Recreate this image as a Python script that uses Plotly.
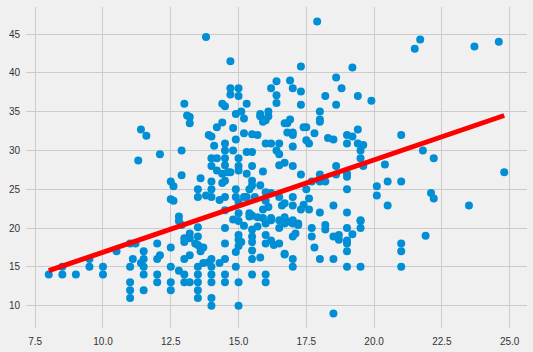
import plotly.graph_objects as go

# acceleration (x) vs mpg (y)
acceleration = [
    13.8, 14.7, 14.7, 14.7, 15.0, 15.0, 13.0, 14.4, 14.5, 15.3, 16.4, 16.2, 16.4, 16.4, 16.1, 15.8, 14.9, 15.1, 13.1,
    17.9, 17.3, 19.2, 16.9, 17.0, 17.3, 18.6, 18.8, 18.2, 19.4, 19.9, 17.3, 18.6, 18.0,
    21.7, 21.5, 23.7, 24.6,
    11.4, 11.6, 11.3, 12.1,
    13.2, 13.2, 15.2, 15.8, 16.0, 16.1, 15.9, 14.2, 14.4, 14.8, 15.2, 13.9, 14.0, 14.5, 14.1, 14.9,
    15.5, 15.7, 16.7, 16.0, 16.2, 16.5, 12.9, 14.5, 14.8, 15.3, 15.5, 16.4, 16.5,
    14.0, 14.2, 14.5, 15.0, 14.0, 14.5, 15.0, 15.5, 14.2, 14.4, 14.6, 14.7, 15.0, 15.3, 15.9, 16.5, 16.7,
    12.9, 13.6, 12.5, 12.6, 14.0, 14.5, 14.4, 15.5, 15.5, 15.8, 15.4, 16.0, 16.2, 13.5, 14.0, 14.9,
    12.5, 12.6, 13.5, 13.8, 14.0, 14.3, 14.5, 14.9, 15.0, 15.2, 15.3, 15.6, 16.0, 16.1, 16.5, 16.6,
    12.8, 14.5, 14.8, 15.0, 15.4, 15.5, 15.4, 15.7, 15.9, 16.2, 16.7, 15.9,
    18.0, 18.0, 16.9, 16.8, 17.4, 17.5, 16.8, 17.0, 17.0, 17.8, 17.5, 17.6, 17.0, 18.3, 18.5,
    19.0, 19.2, 19.4, 19.0, 19.4, 19.6, 19.5, 21.0, 19.5, 19.6, 18.6, 19.0, 19.0, 20.4, 17.0,
    17.3, 18.0, 18.2, 18.0, 18.6, 17.7, 20.5, 21.0, 17.5, 19.0, 20.1, 20.1, 17.0, 16.7, 17.0,
    17.6, 17.4, 17.3, 17.6, 18.5, 19.0, 18.0, 20.5, 19.5, 16.5, 16.8, 17.0, 17.2,
    21.8, 22.2, 24.8, 22.1, 22.2, 23.5,
    8.0, 8.5, 8.5, 9.0, 9.5, 9.5, 10.0, 10.0, 10.5, 11.0, 11.2, 11.0, 11.0, 11.0, 11.0, 11.1,
    11.5, 11.4, 11.5, 11.5, 11.5, 11.5, 12.0, 12.0, 12.0, 12.0, 12.1,
    12.5, 12.8, 12.9, 13.0, 13.0, 13.2, 13.2, 13.5, 13.5, 13.5, 13.4, 13.6, 13.6, 13.7, 13.2, 13.0,
    12.5, 12.5, 12.5, 12.8, 13.0, 13.0, 13.2, 13.5, 13.5, 13.5, 13.5, 13.5,
    13.7, 13.9, 14.0, 14.0, 14.0, 14.0, 14.0, 14.0, 14.3, 14.5, 14.5, 14.5, 14.5,
    14.9, 14.9, 15.0, 15.0, 15.1, 15.0, 15.0, 15.0, 15.5, 15.5, 15.5, 15.5, 15.5, 15.8, 15.5,
    16.0, 16.0, 16.0, 16.0, 16.2, 16.3, 16.7,
    16.5, 16.7, 17.0, 17.2, 17.1, 17.0, 16.5, 16.7, 17.0, 17.0, 17.7, 17.7, 17.8, 18.2, 18.2,
    18.0, 18.5, 18.7, 18.7, 18.5, 19.0, 19.2, 19.0, 19.0, 19.0, 19.0, 19.5, 19.5, 19.5,
    18.5, 21.0, 21.0, 21.0, 21.9,
    15.0, 15.2, 15.7, 16.0, 16.2, 14.5,
]
mpg = [
    44.6, 41.5, 38.0, 37.2, 38.0, 37.0, 36.0, 36.0, 35.7, 36.0, 38.9, 38.0, 37.1, 36.1, 35.0, 34.7, 34.7, 35.0, 34.5,
    46.6, 40.8, 40.7, 39.0, 38.0, 37.6, 39.4, 38.0, 37.0, 37.0, 36.4, 35.9, 35.9, 35.0,
    44.3, 43.1, 43.4, 44.0,
    32.7, 31.9, 28.7, 29.5,
    34.3, 33.5, 34.1, 34.4, 33.9, 34.4, 33.7, 33.0, 33.6, 32.9, 32.2, 32.0, 31.8, 30.9, 30.6, 31.4,
    32.1, 32.0, 33.5, 30.9, 30.9, 30.9, 30.0, 30.0, 30.0, 29.8, 29.8, 30.0, 29.5,
    29.0, 29.0, 29.0, 29.0, 28.0, 28.1, 28.0, 28.0, 27.4, 27.0, 27.2, 27.2, 27.4, 27.0, 27.3, 28.1, 28.4,
    26.8, 26.4, 26.0, 25.4, 26.0, 26.1, 25.8, 26.1, 25.5, 25.5, 25.0, 24.6, 24.5, 25.0, 25.0, 25.0,
    23.7, 23.5, 24.0, 24.2, 24.0, 23.6, 24.0, 24.0, 23.3, 24.0, 24.0, 24.0, 23.5, 22.7, 24.0, 22.9,
    21.5, 22.3, 21.1, 21.9, 21.9, 21.6, 21.5, 21.4, 21.3, 21.3, 21.4, 22.4,
    34.0, 33.7, 34.0, 33.5, 33.0, 33.0, 32.3, 32.3, 32.0, 32.2, 31.3, 30.9, 30.5, 31.6, 31.4,
    32.0, 31.8, 32.7, 30.9, 30.9, 30.7, 30.0, 32.0, 29.0, 28.0, 28.0, 27.0, 26.6, 28.2, 28.0,
    26.9, 26.9, 26.0, 26.0, 26.9, 26.0, 26.0, 26.0, 25.0, 25.0, 25.4, 24.2, 24.0, 23.2, 22.9,
    23.8, 23.0, 22.4, 22.4, 22.9, 22.0, 22.0, 22.9, 21.0, 21.0, 20.8, 21.0, 20.6,
    30.0, 29.0, 27.2, 24.5, 23.8, 22.9,
    14.0, 14.0, 15.0, 14.0, 15.0, 16.0, 15.0, 14.0, 17.0, 18.0, 18.0, 15.0, 13.0, 12.0, 11.0, 16.0,
    17.0, 15.5, 16.0, 15.0, 14.0, 12.0, 18.0, 16.0, 14.0, 13.0, 16.5,
    17.5, 20.9, 20.4, 18.7, 18.2, 19.3, 18.7, 20.1, 18.9, 17.8, 18.0, 17.5, 17.0, 17.5, 16.5, 16.0,
    15.0, 13.0, 12.0, 14.5, 14.0, 13.0, 13.0, 15.0, 14.0, 13.0, 12.0, 11.0,
    15.5, 15.6, 16.0, 15.0, 14.0, 13.0, 11.0, 10.0, 15.5, 16.0, 14.0, 13.0, 18.0,
    16.9, 15.0, 19.1, 18.5, 18.2, 17.7, 13.0, 10.0, 19.8, 18.9, 18.2, 16.0, 17.1, 16.2, 14.0,
    14.0, 13.0, 19.1, 18.0, 18.4, 17.8, 16.7,
    20.0, 20.6, 20.6, 20.4, 19.3, 18.9, 18.0, 16.6, 16.0, 15.0, 20.0, 18.9, 17.5, 20.4, 19.8,
    16.0, 18.9, 19.1, 18.5, 16.0, 20.0, 19.2, 18.4, 18.0, 17.0, 15.0, 20.9, 20.0, 15.0,
    9.0, 18.0, 17.0, 15.0, 19.0,
    20.9, 20.3, 20.2, 20.6, 21.0, 20.0,
]

# fitted line end points
trend_x = [8.0, 24.8]
trend_y = [14.5, 34.5]

x_ticks = [7.5, 10.0, 12.5, 15.0, 17.5, 20.0, 22.5, 25.0]
x_tick_text = ["7.5", "10.0", "12.5", "15.0", "17.5", "20.0", "22.5", "25.0"]
y_ticks = [10, 15, 20, 25, 30, 35, 40, 45]
y_tick_text = ["10", "15", "20", "25", "30", "35", "40", "45"]

fig = go.Figure()
fig.add_trace(go.Scatter(
    x=acceleration, y=mpg, mode="markers",
    marker=dict(color="#008fd5", size=8, line=dict(width=0)),
    showlegend=False, hoverinfo="skip",
))
fig.add_trace(go.Scatter(
    x=trend_x, y=trend_y, mode="lines",
    line=dict(color="#ff0000", width=5),
    showlegend=False, hoverinfo="skip",
))

axis_common = dict(
    showgrid=True, gridcolor="#cbcbcb", gridwidth=1.3,
    zeroline=False, showline=False, ticks="",
    tickfont=dict(family="Liberation Sans, Arial, sans-serif", size=10, color="#333333"),
)
fig.update_layout(
    width=533, height=352,
    paper_bgcolor="#f0f0f0", plot_bgcolor="#f0f0f0",
    margin=dict(l=26, r=6, t=7, b=24, autoexpand=False),
    xaxis=dict(range=[7.16, 25.64], tickvals=x_ticks, ticktext=x_tick_text,
               ticklabelstandoff=6, **axis_common),
    yaxis=dict(range=[7.12, 48.48], tickvals=y_ticks, ticktext=y_tick_text,
               ticklabelstandoff=5, **axis_common),
)

fig.write_html("out.html", config={"displayModeBar": False})
